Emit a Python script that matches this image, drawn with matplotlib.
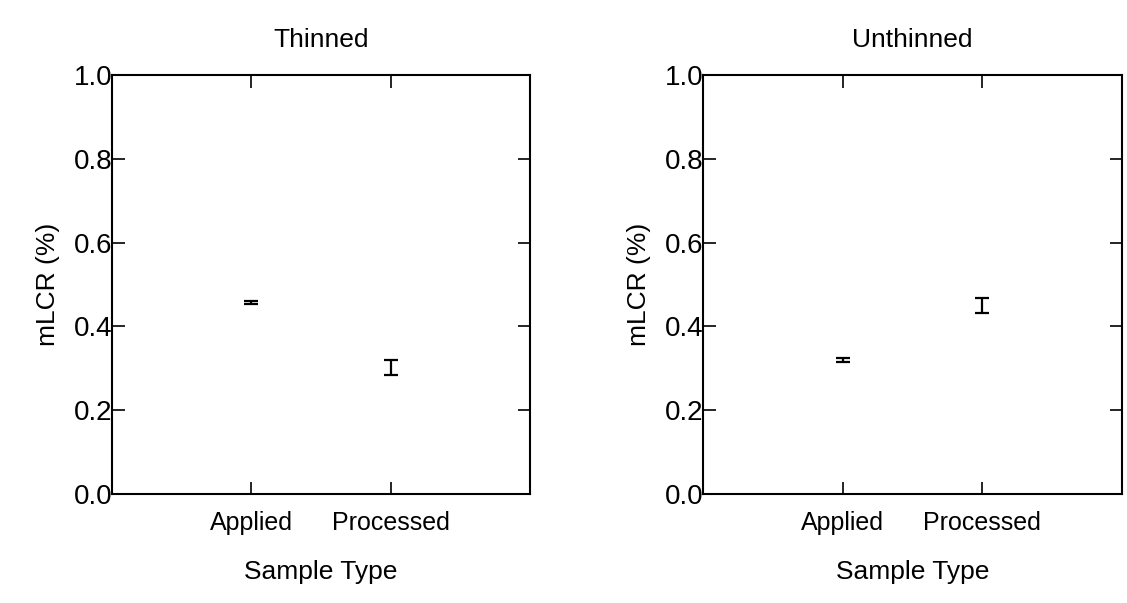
import matplotlib
matplotlib.use("Agg")
import matplotlib.pyplot as plt

plt.rcParams['font.family'] = ['Liberation Sans', 'DejaVu Sans']

categories = ["Applied", "Processed"]
panel_titles = ["Thinned", "Unthinned"]
thinned_mean = [0.457, 0.302]
thinned_err = [0.004, 0.018]
unthinned_mean = [0.320, 0.450]
unthinned_err = [0.004, 0.018]
y_ticks = [0.0, 0.2, 0.4, 0.6, 0.8, 1.0]

fig = plt.figure(figsize=(11.27, 6.03), dpi=100)
ax1 = fig.add_axes([0.0994, 0.1808, 0.371, 0.6948])
ax2 = fig.add_axes([0.6238, 0.1808, 0.3718, 0.6948])

x = [1, 2]
for ax, title, means, errs in [(ax1, panel_titles[0], thinned_mean, thinned_err),
                               (ax2, panel_titles[1], unthinned_mean, unthinned_err)]:
    ax.errorbar(x, means, yerr=errs, fmt='none', ecolor='black',
                elinewidth=1.6, capsize=5, capthick=1.6)
    ax.set_xlim(0, 3)
    ax.set_ylim(0, 1.0)
    ax.set_xticks(x)
    ax.set_xticklabels(categories, fontsize=18)
    ax.set_yticks(y_ticks)
    ax.set_yticklabels([f"{v:.1f}" for v in y_ticks], fontsize=20)
    ax.tick_params(direction='in', length=9, width=1.2, top=True, right=True)
    ax.tick_params(axis='x', pad=12)
    ax.tick_params(axis='y', pad=0)
    for s in ax.spines.values():
        s.set_linewidth(1.5)
    ax.set_title(title, fontsize=19, pad=20)
    ax.set_ylabel("mLCR (%)", fontsize=19, labelpad=10)
    ax.set_xlabel("Sample Type", fontsize=19, labelpad=18)

fig.savefig("out.png", dpi=100)
